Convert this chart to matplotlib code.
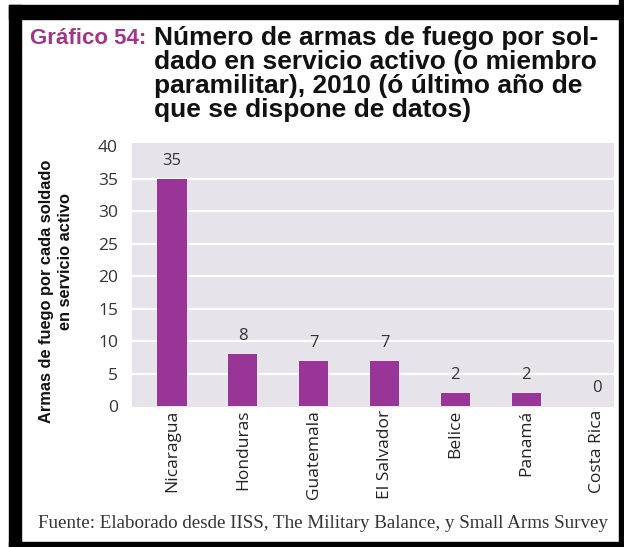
import matplotlib.pyplot as plt
import matplotlib.patches as mpatches

# data
paises = ["Nicaragua", "Honduras", "Guatemala", "El Salvador", "Belice", "Panamá", "Costa Rica"]
armas = [35, 8, 7, 7, 2, 2, 0]
y_ticks = [0, 5, 10, 15, 20, 25, 30, 35, 40]

W, H = 624, 547
fig = plt.figure(figsize=(W / 100, H / 100), dpi=100, facecolor="white")


def fx(px):
    return px / W


def fy(py):
    return 1 - py / H


# axes placed in pixel terms
left, right, top, bottom = 132, 614, 143, 407
ax = fig.add_axes([fx(left), fy(bottom), fx(right - left), (bottom - top) / H])
ax.set_facecolor("#e6e4ea")

x = range(len(paises))
ax.bar(x, armas, width=0.41, color="#9a3598", edgecolor="#7e2a7c", linewidth=0, zorder=3)
for xi, v in zip(x, armas):
    ax.text(xi, v + 1.5, str(v), ha="center", va="bottom", fontsize=12,
            color="#333333", family="Open Sans", zorder=4)

ax.set_xlim(-0.565, 6.24)
ax.set_ylim(-0.15, 40.5)
ax.set_yticks(y_ticks)
ax.set_yticklabels([str(t) for t in y_ticks], fontsize=12.5, color="#333333", family="Open Sans")
ax.set_xticks(list(x))
ax.set_xticklabels(paises, rotation=90, fontsize=12.5, color="#222222", family="Open Sans")
ax.tick_params(axis="both", length=0)
ax.tick_params(axis="y", pad=10)
ax.tick_params(axis="x", pad=2)
for yv in y_ticks[1:-1]:
    ax.axhline(yv, color="white", linewidth=1.6, zorder=1)
for s in ax.spines.values():
    s.set_visible(False)

# y label (two lines)
fig.text(fx(47), fy(291), "Armas de fuego por cada soldado", rotation=90, ha="center", va="center",
         fontsize=11.8, fontweight="bold", family="Liberation Sans", color="#111111")
fig.text(fx(65), fy(262), "en servicio activo", rotation=90, ha="center", va="center",
         fontsize=11.8, fontweight="bold", family="Liberation Sans", color="#111111")

# title
fig.text(fx(30), fy(38), "Gráfico 54:", ha="left", va="center", fontsize=16,
         fontweight="bold", family="Liberation Sans", color="#a3348a")
title_lines = ["Número de armas de fuego por sol-",
               "dado en servicio activo (o miembro",
               "paramilitar), 2010 (ó último año de",
               "que se dispone de datos)"]
for i, line in enumerate(title_lines):
    fig.text(fx(154), fy(38 + i * 24), line, ha="left", va="center", fontsize=19,
             fontweight="bold", family="Liberation Sans", color="#111111")

# source
fig.text(fx(38), fy(523), "Fuente: Elaborado desde IISS, The Military Balance, y Small Arms Survey",
         ha="left", va="center", fontsize=13.7, family="Liberation Serif", color="#333333")

# black frame
frame = [(9, 5, 12, 542), (9, 5, 615, 14), (619, 0, 5, 547), (9, 542, 615, 5)]
for px, py, pw, ph in frame:
    fig.patches.append(mpatches.Rectangle((fx(px), fy(py + ph)), fx(pw), ph / H,
                                          transform=fig.transFigure, color="black", zorder=10))

fig.savefig("out.png", dpi=100)
